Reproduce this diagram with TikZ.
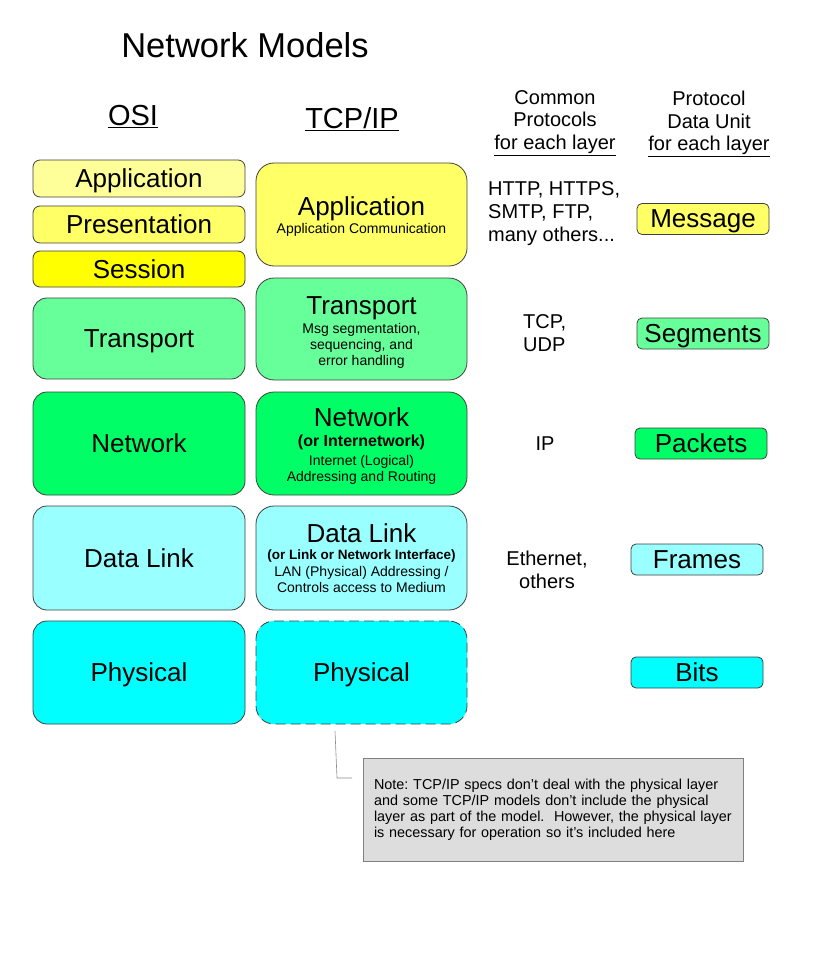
\documentclass[tikz,border=0pt]{standalone}
\usepackage{fontspec}
\setmainfont{Liberation Sans}

\definecolor{applight}{HTML}{FFFF99}
\definecolor{appyel}{HTML}{FFFF66}
\definecolor{sessyel}{HTML}{FFFF00}
\definecolor{transgreen}{HTML}{66FF99}
\definecolor{netgreen}{HTML}{00FF66}
\definecolor{linkcyan}{HTML}{99FFFF}
\definecolor{physcyan}{HTML}{00FFFF}
\definecolor{notegray}{HTML}{DDDDDD}

\newcommand{\fsz}[2]{\fontsize{#1}{#2}\selectfont}
\newcommand{\subln}{\fsz{14}{16}}
\newcommand{\boldln}[1]{\fsz{#1}{16}\bfseries}
\newcommand{\padtop}[1]{\rule{0pt}{#1}}
\frenchspacing

\begin{document}
\begin{tikzpicture}  % ------ Network models : OSI vs TCP/IP --------
      [x=1pt,y=-1pt,
       osi/.style={draw=black!75, line width=0.8pt, rounded corners=14pt,
         minimum width=212pt, inner sep=0pt, text depth=0pt, font=\fsz{26}{30}},
       osismall/.style={osi, rounded corners=7pt},
       tcp/.style={draw=black!75, line width=0.8pt, rounded corners=18pt,
         minimum width=211pt, minimum height=103pt, inner sep=0pt,
         align=center, font=\fsz{26}{16}},
       pdu/.style={draw=black!75, line width=0.8pt, rounded corners=5pt,
         minimum width=132pt, minimum height=31pt, inner sep=0pt,
         text depth=0pt, font=\fsz{26}{28}},
       proto/.style={inner sep=0pt, font=\fsz{20}{23}},
       head/.style={inner sep=0pt, align=center, font=\fsz{20}{22.5}}]

    \useasboundingbox (0,0) rectangle (816,960);

    % titles
    \node (title) at (245,45) {\fsz{34.5}{38}Network Models};
    \node [anchor=base, font=\fsz{29}{32}] (osihead) at (133,126) {\underline{OSI}};
    \node [anchor=base, font=\fsz{29}{32}] (tcphead) at (352,129) {\underline{TCP/IP}};
    \node [head] (protohead) at (555,123) {Common\\Protocols\\\underline{for each layer}};
    \node [head] (pduhead) at (709,124) {Protocol\\Data Unit\\\underline{for each layer}};

    % OSI layers
    \node [osismall, fill=applight, minimum height=37pt] (osiapp) at (139,178.5) {Application};
    \node [osismall, fill=appyel, minimum height=37pt] (osipres) at (139,224.5) {Presentation};
    \node [osismall, fill=sessyel, minimum height=36pt] (osisess) at (139,269) {Session};
    \node [osi, fill=transgreen, minimum height=81pt] (ositrans) at (139,338.5) {Transport};
    \node [osi, fill=netgreen, minimum height=103pt] (osinet) at (139,443.5) {Network};
    \node [osi, fill=linkcyan, minimum height=104pt] (osilink) at (139,558) {Data Link};
    \node [osi, fill=physcyan, minimum height=103pt] (osiphys) at (139,672.5) {Physical};

    % TCP/IP layers
    \node [tcp, fill=appyel] (tapp) at (361.5,214.5)
      {\padtop{23pt}Application\\[2pt]\subln Application Communication};
    \node [tcp, fill=transgreen, minimum height=102pt] (ttrans) at (361.5,329)
      {\padtop{24.6pt}Transport\\[3pt]\subln Msg segmentation,\\\subln sequencing, and\\\subln error handling};
    \node [tcp, fill=netgreen] (tnet) at (361.5,443.5)
      {\padtop{23.5pt}Network\\[4.4pt]\boldln{16}(or Internetwork)\\[2.7pt]\subln Internet (Logical)\\\subln Addressing and Routing};
    \node [tcp, fill=linkcyan, minimum height=104pt] (tlink) at (361.5,558)
      {Data Link\\[1.5pt]\boldln{13.5}(or Link or Network Interface)\\[1.2pt]\subln LAN (Physical) Addressing /\\\subln Controls access to Medium};
    \node [tcp, fill=physcyan, text depth=0pt, dash pattern=on 10pt off 5pt] (tphys) at (361.5,672.5) {Physical};

    % protocols
    \node [proto, anchor=west, align=left] (papp) at (488,214) {HTTP, HTTPS,\\SMTP, FTP,\\many others...};
    \node [proto, anchor=west, align=left] (ptrans) at (523,333) {TCP,\\UDP};
    \node [proto] (pnet) at (545,444) {IP};
    \node [proto, align=center] (plink) at (547,569.5) {Ethernet,\\others};

    % protocol data units
    \node [pdu, fill=appyel] (pduapp) at (703,219) {Message};
    \node [pdu, fill=transgreen] (pdutrans) at (703,333.5) {Segments};
    \node [pdu, fill=netgreen] (pdunet) at (701,443.5) {Packets};
    \node [pdu, fill=linkcyan] (pdulink) at (697,559.5) {Frames};
    \node [pdu, fill=physcyan] (pduphys) at (697,672.5) {Bits};

    % note and its callout
    \node [draw=black!50, fill=notegray, line width=0.8pt, minimum width=380pt,
      minimum height=103pt, inner xsep=11pt, text width=358pt, align=left,
      font=\fsz{14.4}{16}] (note) at (553,809.5)
      {Note: TCP/IP specs don't deal with the physical layer\\and some TCP/IP models don't include the physical\\layer as part of the model.~ However, the physical layer\\is necessary for operation so it's included here};
    \coordinate (calla) at (335,731);
    \coordinate (callb) at (337,778);
    \coordinate (callc) at (352,778);
    \draw [black!45, line width=0.6pt] (calla) -- (callb) -- (callc);
\end{tikzpicture}
\end{document}
